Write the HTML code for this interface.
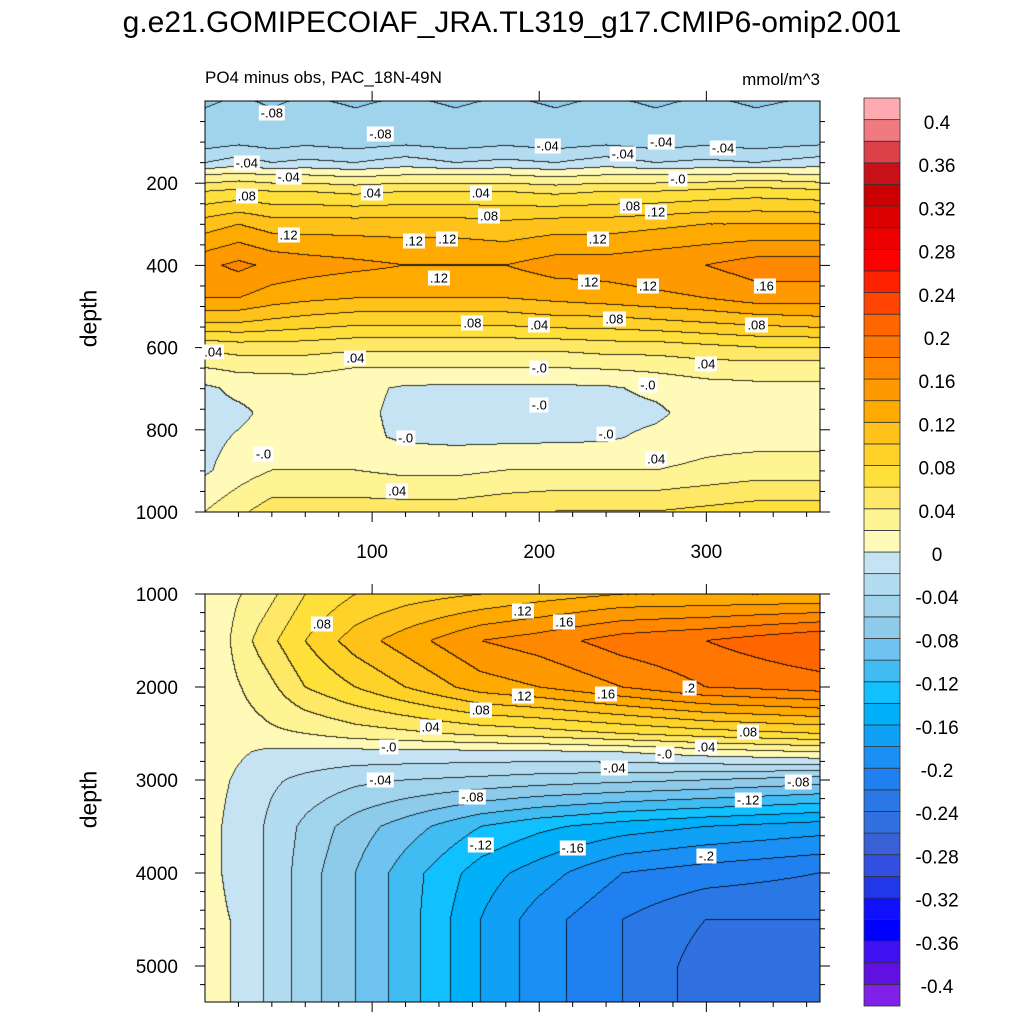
<!DOCTYPE html>
<html><head><meta charset="utf-8">
<style>
body{margin:0;background:#fff;width:1024px;height:1024px;overflow:hidden;font-family:"Liberation Sans",sans-serif}
#wrap{position:relative;width:1024px;height:1024px}
canvas{position:absolute}
.t{position:absolute;white-space:nowrap;color:#000}
.cl{position:absolute;background:#fff;font-size:13px;padding:0 2px;line-height:15px;transform:translate(-50%,-50%)}
</style></head><body>
<div id="wrap">
<div class="t" style="left:0;width:1024px;text-align:center;top:6px;font-size:30px">g.e21.GOMIPECOIAF_JRA.TL319_g17.CMIP6-omip2.001</div>
<div class="t" style="left:205px;top:68px;font-size:17px">PO4 minus obs, PAC_18N-49N</div>
<div class="t" style="left:700px;width:120px;text-align:right;top:70px;font-size:17px">mmol/m^3</div>
<div class="t" style="left:60px;top:305px;font-size:23px;transform:rotate(-90deg)">depth</div>
<div class="t" style="left:60px;top:786px;font-size:23px;transform:rotate(-90deg)">depth</div>
<canvas id="c1" width="615" height="411" style="left:205px;top:101px"></canvas>
<canvas id="c2" width="615" height="408" style="left:205px;top:594px"></canvas>
<svg id="ov" width="1024" height="1024" style="position:absolute;left:0;top:0"></svg>
</div>
<script>
// ---- data ----
const levels0 = -0.42, levelStep = 0.02;
const warmColors = ["#fffab8","#fff494","#ffe866","#ffe03a","#ffd22a","#ffc21a","#ffaa00","#ff9900","#ff8800","#ff7700","#ff6600","#ff4400","#ff2200","#ff0000","#ee0000","#dd0000","#cc0000","#c81018","#dc4048","#f07a80","#ffaab0"];
const coldColors = ["#c5e3f2","#b4dcf0","#a0d4ec","#8ecbea","#6ec3f0","#40bcf3","#10c0ff","#00b0f8","#10a0f6","#1a90f4","#2080f0","#2a78e6","#3070e0","#3a60d8","#3450e0","#2038e8","#1010ff","#0000ff","#4010f0","#6010e0","#8020e8"];
const cbarLabels = ["0.4","0.36","0.32","0.28","0.24","0.2","0.16","0.12","0.08","0.04","0","-0.04","-0.08","-0.12","-0.16","-0.2","-0.24","-0.28","-0.32","-0.36","-0.4"];
const topTimes = [0,20,40,60,90,120,150,180,210,240,270,300,330,368];
const topDepths = [0,100,150,180,220,300,400,480,540,600,650,700,760,820,900,1000];
const topVals = [
[-.062,-.058,-.062,-.058,-.062,-.058,-.062,-.058,-.062,-.058,-.062,-.058,-.062,-.058],
[-.05,-.045,-.05,-.045,-.05,-.045,-.05,-.045,-.05,-.045,-.05,-.045,-.05,-.045],
[-.02,-.01,-.02,-.015,-.02,-.01,-.02,-.015,-.02,-.01,-.02,-.015,-.02,-.01],
[.02,.025,.02,.02,.015,.02,.02,.02,.015,.02,.02,.02,.025,.02],
[.06,.065,.06,.06,.055,.06,.06,.06,.055,.06,.06,.065,.07,.065],
[.11,.12,.11,.11,.11,.11,.11,.105,.11,.11,.115,.12,.12,.12],
[.155,.165,.155,.15,.145,.14,.14,.14,.15,.15,.155,.16,.17,.17],
[.14,.14,.13,.125,.12,.12,.12,.12,.125,.13,.135,.14,.15,.15],
[.10,.10,.095,.09,.085,.085,.085,.085,.09,.09,.095,.10,.105,.11],
[.045,.05,.05,.05,.045,.045,.045,.045,.045,.05,.05,.055,.06,.06],
[.02,.025,.025,.025,.02,.02,.02,.02,.02,.022,.025,.03,.03,.03],
[-.004,.005,.008,.01,.006,-.003,-.004,-.004,-.004,-.003,.005,.012,.015,.015],
[-.006,-.004,.005,.006,.005,-.005,-.008,-.008,-.008,-.008,-.004,.01,.012,.012],
[-.006,.002,.008,.01,.005,-.003,-.005,-.005,-.004,-.003,.005,.012,.012,.012],
[-.003,.01,.02,.02,.02,.015,.015,.02,.02,.02,.02,.025,.03,.03],
[.02,.035,.05,.05,.05,.05,.05,.055,.06,.06,.06,.065,.07,.07]];
const botTimes = [0,15,35,60,90,120,165,200,250,300,368];
const botDepths = [1000,1500,2000,2500,2700,3000,3500,4000,4500,5000,5400];
const botVals = [
[.01,.015,.03,.06,.08,.09,.10,.11,.12,.12,.12],
[.01,.02,.05,.08,.11,.13,.16,.17,.19,.20,.22],
[.01,.015,.03,.06,.08,.10,.13,.14,.16,.18,.19],
[.01,.01,.015,.02,.03,.035,.045,.05,.06,.07,.08],
[.01,.005,-.003,-.005,-.006,-.005,-.005,-.004,.0,.01,.02],
[.01,.0,-.015,-.025,-.035,-.04,-.045,-.05,-.055,-.06,-.07],
[.01,-.005,-.02,-.045,-.07,-.09,-.12,-.135,-.15,-.16,-.17],
[.01,-.005,-.02,-.05,-.08,-.11,-.15,-.17,-.20,-.21,-.22],
[.01,.0,-.02,-.05,-.08,-.11,-.16,-.19,-.22,-.24,-.24],
[.01,.0,-.02,-.05,-.08,-.11,-.16,-.19,-.22,-.25,-.245],
[.01,.0,-.02,-.05,-.08,-.11,-.16,-.19,-.22,-.25,-.245]];
const topLabels = [["-.08",40,30],["-.04",25,150],["-.08",105,80],["-.04",50,185],[".08",25,230],[".04",100,225],[".12",50,325],[".04",165,225],[".12",125,340],[".12",145,335],[".12",140,430],[".08",170,280],[".08",160,540],[".04",200,545],[".04",5,610],[".04",90,625],["-.0",200,650],["-.0",265,690],["-.0",200,740],["-.0",120,820],["-.0",240,810],["-.0",35,860],[".04",270,870],[".04",115,950],[".16",335,450],[".08",330,545],[".04",300,640],[".12",270,270],[".12",265,450],[".08",245,530],[".12",230,440],[".12",235,335],[".08",255,255],["-.04",205,110],["-.04",250,130],["-.04",273,100],["-.0",283,190],["-.04",310,115]];
const botLabels = [[".08",70,1320],[".12",190,1180],[".16",215,1300],[".16",240,2070],[".2",290,2010],[".12",190,2100],[".08",165,2250],[".04",135,2430],[".08",325,2480],[".04",300,2640],["-.0",110,2640],["-.0",275,2720],["-.04",105,3000],["-.04",245,2870],["-.08",160,3180],["-.12",325,3220],["-.08",355,3020],["-.12",165,3700],["-.16",220,3730],["-.2",300,3820]];
// ---- render ----
function colorOf(i){return i>=21?warmColors[i-21]:coldColors[20-i];}
function idx(v){let i=Math.floor((v-levels0)/levelStep);return Math.max(0,Math.min(41,i));}
function seg(arr,v){let i=0;while(i<arr.length-2&&v>arr[i+1])i++;let f=(v-arr[i])/(arr[i+1]-arr[i]);return [i,Math.max(0,Math.min(1,f))];}
function interp(ts,ds,vals,t,d){const [i,fx]=seg(ts,t),[j,fy]=seg(ds,d);
 const a=vals[j][i],b=vals[j][i+1],c=vals[j+1][i],e=vals[j+1][i+1];
 return (a*(1-fx)+b*fx)*(1-fy)+(c*(1-fx)+e*fx)*fy;}
function hex(h){return [parseInt(h.substr(1,2),16),parseInt(h.substr(3,2),16),parseInt(h.substr(5,2),16)];}
const rgb=[];for(let i=0;i<42;i++)rgb.push(hex(colorOf(i)));
function drawPanel(id,ts,ds,vals,d0,d1){
 const cv=document.getElementById(id),ctx=cv.getContext('2d'),W=cv.width,H=cv.height;
 const img=ctx.createImageData(W,H),L=new Int16Array(W*H);
 for(let y=0;y<H;y++){const d=d0+(d1-d0)*y/(H-1);
  for(let x=0;x<W;x++){const t=368*x/(W-1);L[y*W+x]=idx(interp(ts,ds,vals,t,d));}}
 for(let y=0;y<H;y++)for(let x=0;x<W;x++){const k=y*W+x,l=L[k];let c=rgb[l];
  let edge=(x<W-1&&L[k+1]!==l)||(y<H-1&&L[k+W]!==l);
  const p=k*4;if(edge){img.data[p]=c[0]*0.2;img.data[p+1]=c[1]*0.2;img.data[p+2]=c[2]*0.2;}
  else{img.data[p]=c[0];img.data[p+1]=c[1];img.data[p+2]=c[2];}img.data[p+3]=255;}
 ctx.putImageData(img,0,0);}
drawPanel('c1',topTimes,topDepths,topVals,0,1000);
drawPanel('c2',botTimes,botDepths,botVals,1000,5380);
const wrap=document.getElementById('wrap');
function xOf(t){return 205+t*615/368;}
function yTop(d){return 101+d*0.411;}
function yBot(d){return 594+(d-1000)*0.093;}
function addLabel(txt,x,y,nm){const e=document.createElement('div');e.className='cl';e.textContent=txt;e.style.left=x+'px';e.style.top=y+'px';
 
 
 wrap.appendChild(e);}
topLabels.forEach(l=>addLabel(l[0],xOf(l[1]),yTop(l[2]),'contour-label'));
botLabels.forEach(l=>addLabel(l[0],xOf(l[1]),yBot(l[2]),'contour-label'));
// axes
const ov=document.getElementById('ov');const NS='http://www.w3.org/2000/svg';
function el(tag,attrs,nm){const e=document.createElementNS(NS,tag);for(const k in attrs)e.setAttribute(k,attrs[k]);
 
 
 ov.appendChild(e);return e;}
function txt(s,x,y,anchor,nm){const e=el('text',{x:x,y:y,'text-anchor':anchor,'font-size':19,'font-family':'Liberation Sans, sans-serif'},nm);e.textContent=s;}
el('rect',{x:205,y:101,width:615,height:411,fill:'none',stroke:'#000','stroke-width':1},'top-panel-frame');
el('rect',{x:205,y:594,width:615,height:408,fill:'none',stroke:'#000','stroke-width':1},'bottom-panel-frame');
[200,400,600,800,1000].forEach(d=>{const y=yTop(d);el('line',{x1:205,x2:195,y1:y,y2:y,stroke:'#000'},'y-tick');el('line',{x1:820,x2:830,y1:y,y2:y,stroke:'#000'},'y-tick');txt(String(d),178,y+7,'end','y-tick-label');});
for(let d=50;d<1000;d+=50){if(d%200){const y=yTop(d);el('line',{x1:205,x2:200,y1:y,y2:y,stroke:'#000'},'y-minor-tick');el('line',{x1:820,x2:825,y1:y,y2:y,stroke:'#000'},'y-minor-tick');}}
[1000,2000,3000,4000,5000].forEach(d=>{const y=yBot(d);el('line',{x1:205,x2:195,y1:y,y2:y,stroke:'#000'},'y-tick');el('line',{x1:820,x2:830,y1:y,y2:y,stroke:'#000'},'y-tick');txt(String(d),178,y+7,'end','y-tick-label');});
for(let d=1200;d<5400;d+=200){if(d%1000){const y=yBot(d);el('line',{x1:205,x2:200,y1:y,y2:y,stroke:'#000'},'y-minor-tick');el('line',{x1:820,x2:825,y1:y,y2:y,stroke:'#000'},'y-minor-tick');}}
[100,200,300].forEach(t=>{const x=xOf(t);
 el('line',{x1:x,x2:x,y1:512,y2:522,stroke:'#000'},'x-tick');el('line',{x1:x,x2:x,y1:101,y2:91,stroke:'#000'},'x-tick');
 el('line',{x1:x,x2:x,y1:1002,y2:1012,stroke:'#000'},'x-tick');el('line',{x1:x,x2:x,y1:594,y2:584,stroke:'#000'},'x-tick');
 txt(String(t),x,558,'middle','x-tick-label');});
for(let t=20;t<368;t+=20){if(t%100){const x=xOf(t);el('line',{x1:x,x2:x,y1:512,y2:517,stroke:'#000'},'x-minor-tick');el('line',{x1:x,x2:x,y1:1002,y2:1007,stroke:'#000'},'x-minor-tick');}}
// colorbar
for(let i=0;i<42;i++){const y=98+(41-i)*21.62;
 el('rect',{x:864,y:y,width:36,height:21.62,fill:colorOf(i),stroke:'#333','stroke-width':0.8},'colorbar-box');}
cbarLabels.forEach((s,k)=>{txt(s,937,122+k*43.2+7,'middle','colorbar-label');});
</script>
</body></html>
